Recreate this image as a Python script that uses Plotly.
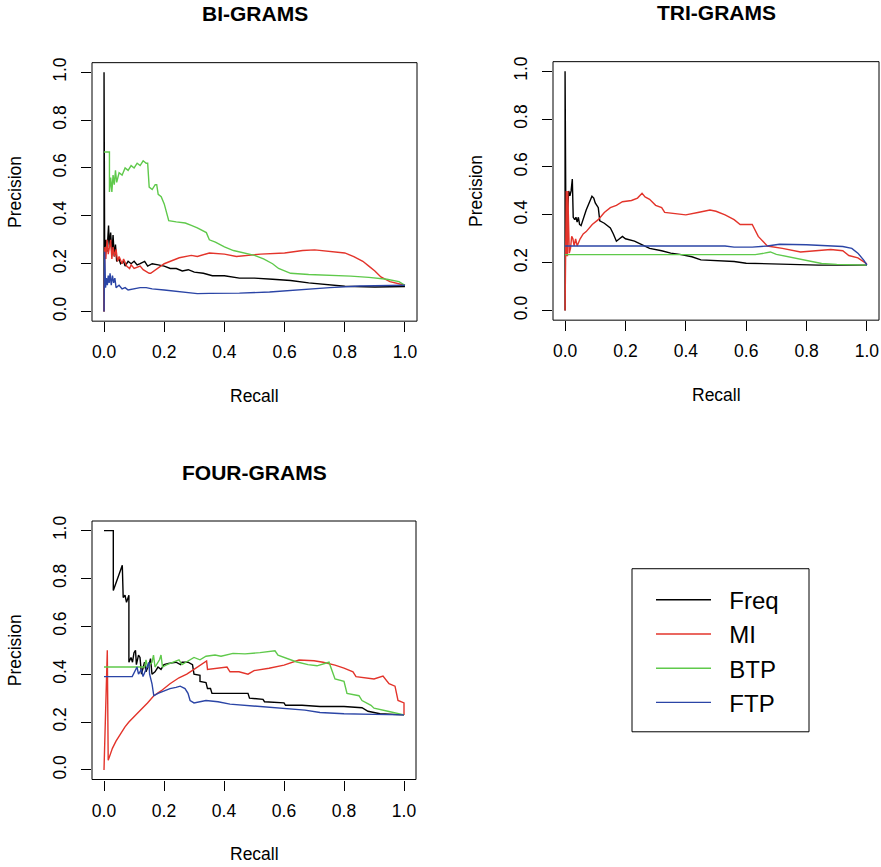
import plotly.graph_objects as go

W, H = 881, 867

series_names = ["Freq", "MI", "BTP", "FTP"]
series_colors = ["#000000", "#E3342B", "#5FC94B", "#2B45A6"]
tick_vals = [0.0, 0.2, 0.4, 0.6, 0.8, 1.0]
tick_text = ["0.0", "0.2", "0.4", "0.6", "0.8", "1.0"]
panel_titles = ["BI-GRAMS", "TRI-GRAMS", "FOUR-GRAMS"]

# ---------------- BI-GRAMS ----------------
bi_freq_r = [0.0, 0.0, 0.002, 0.006, 0.010, 0.015, 0.018, 0.022, 0.026, 0.030, 0.034, 0.038, 0.042, 0.05, 0.055, 0.065,
             0.07, 0.08, 0.09, 0.10, 0.11, 0.12, 0.135, 0.145, 0.16, 0.18, 0.20, 0.22, 0.24, 0.26, 0.28, 0.30, 0.33,
             0.36, 0.40, 0.45, 0.50, 0.56, 0.62, 0.68, 0.74, 0.80, 0.90, 1.0]
bi_freq_p = [0.0, 1.0, 0.26, 0.30, 0.25, 0.36, 0.27, 0.33, 0.24, 0.32, 0.23, 0.28, 0.21, 0.22, 0.20, 0.21,
             0.19, 0.21, 0.20, 0.21, 0.195, 0.20, 0.21, 0.19, 0.20, 0.195, 0.19, 0.18, 0.18, 0.17, 0.175, 0.165, 0.16,
             0.15, 0.15, 0.14, 0.14, 0.135, 0.13, 0.12, 0.113, 0.106, 0.103, 0.105]
bi_mi_r = [0.0, 0.003, 0.006, 0.010, 0.014, 0.018, 0.022, 0.026, 0.030, 0.035, 0.040, 0.045, 0.05, 0.06, 0.065, 0.075,
           0.085, 0.09, 0.10, 0.12, 0.13, 0.15, 0.155, 0.20, 0.25, 0.29, 0.31, 0.35, 0.40, 0.44, 0.48, 0.52, 0.60,
           0.66, 0.70, 0.75, 0.80, 0.83, 0.86, 0.88, 0.90, 0.92, 0.95, 1.0]
bi_mi_p = [0.0, 0.27, 0.22, 0.30, 0.24, 0.28, 0.30, 0.22, 0.27, 0.23, 0.26, 0.21, 0.23, 0.20, 0.22, 0.19,
           0.18, 0.195, 0.18, 0.19, 0.175, 0.16, 0.16, 0.20, 0.225, 0.235, 0.23, 0.245, 0.24, 0.23, 0.235, 0.24, 0.245,
           0.255, 0.258, 0.25, 0.245, 0.23, 0.21, 0.19, 0.17, 0.145, 0.125, 0.11]
bi_btp_r = [0.0, 0.018, 0.018, 0.022, 0.026, 0.030, 0.034, 0.038, 0.042, 0.05, 0.06, 0.07, 0.08, 0.09, 0.10, 0.11,
            0.12, 0.13, 0.14, 0.145, 0.15, 0.16, 0.17, 0.175, 0.18, 0.19, 0.20, 0.21, 0.215, 0.24, 0.27, 0.29, 0.31,
            0.34, 0.35, 0.37, 0.40, 0.43, 0.47, 0.50, 0.53, 0.56, 0.58, 0.62, 0.68, 0.75, 0.82, 0.88, 0.94, 0.98, 1.0]
bi_btp_p = [0.667, 0.667, 0.50, 0.56, 0.50, 0.57, 0.53, 0.59, 0.54, 0.58, 0.57, 0.60, 0.59, 0.61, 0.60, 0.62,
            0.61, 0.63, 0.62, 0.62, 0.52, 0.51, 0.53, 0.53, 0.49, 0.48, 0.45, 0.40, 0.38, 0.375, 0.37, 0.36, 0.35,
            0.33, 0.30, 0.29, 0.27, 0.255, 0.245, 0.235, 0.22, 0.20, 0.18, 0.16, 0.155, 0.152, 0.148, 0.143, 0.135,
            0.125, 0.11]
bi_ftp_r = [0.0, 0.002, 0.005, 0.008, 0.011, 0.014, 0.017, 0.020, 0.024, 0.028, 0.032, 0.036, 0.040, 0.05, 0.06,
            0.07, 0.08, 0.10, 0.12, 0.14, 0.16, 0.20, 0.25, 0.28, 0.31, 0.35, 0.45, 0.55, 0.65, 0.75, 0.85, 0.95, 1.0]
bi_ftp_p = [0.0, 0.25, 0.10, 0.14, 0.11, 0.15, 0.12, 0.16, 0.11, 0.15, 0.12, 0.14, 0.10, 0.11, 0.095,
            0.10, 0.09, 0.095, 0.10, 0.10, 0.095, 0.09, 0.083, 0.08, 0.075, 0.076, 0.077, 0.082, 0.092, 0.10, 0.107,
            0.11, 0.11]

# ---------------- TRI-GRAMS ----------------
tri_freq_r = [0.0, 0.0, 0.003, 0.008, 0.012, 0.016, 0.020, 0.024, 0.027, 0.032, 0.036, 0.040, 0.044, 0.048, 0.053,
              0.07, 0.089, 0.095, 0.10, 0.11, 0.115, 0.13, 0.15, 0.16, 0.17, 0.19, 0.20, 0.23, 0.26, 0.28, 0.32,
              0.35, 0.38, 0.42, 0.45, 0.50, 0.56, 0.60, 0.67, 0.75, 0.84, 1.0]
tri_freq_p = [0.0, 1.0, 0.29, 0.42, 0.50, 0.48, 0.50, 0.55, 0.39, 0.38, 0.39, 0.37, 0.39, 0.36, 0.355,
              0.42, 0.478, 0.47, 0.45, 0.43, 0.375, 0.365, 0.345, 0.32, 0.29, 0.31, 0.30, 0.29, 0.27, 0.26, 0.25,
              0.24, 0.235, 0.225, 0.212, 0.21, 0.205, 0.198, 0.196, 0.192, 0.19, 0.19]
tri_mi_r = [0.0, 0.002, 0.004, 0.005, 0.008, 0.009, 0.012, 0.014, 0.018, 0.022, 0.026, 0.030, 0.035, 0.040, 0.05,
            0.06, 0.07, 0.09, 0.11, 0.13, 0.15, 0.17, 0.19, 0.22, 0.24, 0.255, 0.265, 0.28, 0.30, 0.32, 0.33, 0.36,
            0.40, 0.44, 0.48, 0.50, 0.53, 0.56, 0.58, 0.60, 0.62, 0.64, 0.67, 0.72, 0.78, 0.83, 0.88, 0.92, 0.94,
            0.97, 1.0]
tri_mi_p = [0.0, 0.50, 0.50, 0.23, 0.23, 0.50, 0.30, 0.24, 0.26, 0.31, 0.30, 0.27, 0.30, 0.27, 0.30,
            0.32, 0.33, 0.36, 0.38, 0.41, 0.43, 0.44, 0.455, 0.46, 0.47, 0.49, 0.475, 0.465, 0.44, 0.43, 0.41, 0.405,
            0.40, 0.41, 0.42, 0.415, 0.40, 0.38, 0.36, 0.36, 0.36, 0.31, 0.27, 0.26, 0.245, 0.25, 0.255, 0.25, 0.23,
            0.22, 0.195]
tri_btp_r = [0.0, 0.63, 0.66, 0.68, 0.70, 0.74, 0.78, 0.82, 0.85, 0.90, 1.0]
tri_btp_p = [0.234, 0.234, 0.24, 0.245, 0.235, 0.225, 0.215, 0.205, 0.197, 0.193, 0.19]
tri_ftp_r = [0.0, 0.53, 0.56, 0.62, 0.67, 0.71, 0.80, 0.86, 0.92, 0.95, 0.97, 0.99, 1.0]
tri_ftp_p = [0.27, 0.27, 0.265, 0.265, 0.27, 0.277, 0.275, 0.27, 0.268, 0.26, 0.24, 0.21, 0.19]

# ---------------- FOUR-GRAMS ----------------
four_freq_r = [0.0, 0.031, 0.031, 0.045, 0.055, 0.061, 0.064, 0.07, 0.075, 0.08, 0.083, 0.083, 0.09, 0.095, 0.10,
               0.105, 0.108, 0.115, 0.12, 0.125, 0.13, 0.135, 0.14, 0.15, 0.155, 0.16, 0.17, 0.18, 0.19, 0.20,
               0.215, 0.24, 0.255, 0.26, 0.28, 0.295, 0.30, 0.32, 0.32, 0.34, 0.345, 0.355, 0.36, 0.40, 0.45, 0.48,
               0.485, 0.53, 0.535, 0.60, 0.605, 0.66, 0.72, 0.80, 0.86, 0.88, 0.92, 1.0]
four_freq_p = [1.0, 1.0, 0.75, 0.80, 0.84, 0.855, 0.72, 0.73, 0.70, 0.72, 0.73, 0.45, 0.47, 0.45, 0.49,
               0.50, 0.44, 0.48, 0.47, 0.40, 0.42, 0.45, 0.41, 0.44, 0.465, 0.40, 0.41, 0.43, 0.42, 0.44,
               0.445, 0.45, 0.44, 0.45, 0.45, 0.44, 0.40, 0.395, 0.37, 0.365, 0.34, 0.34, 0.32, 0.32, 0.32, 0.32,
               0.30, 0.295, 0.285, 0.28, 0.27, 0.27, 0.265, 0.265, 0.26, 0.245, 0.235, 0.23]
four_mi_r = [0.0, 0.011, 0.014, 0.02, 0.028, 0.04, 0.055, 0.07, 0.083, 0.10, 0.122, 0.145, 0.166, 0.19, 0.22, 0.25,
             0.276, 0.30, 0.33, 0.342, 0.345, 0.37, 0.41, 0.42, 0.45, 0.48, 0.50, 0.55, 0.60, 0.65, 0.70, 0.73,
             0.77, 0.80, 0.83, 0.84, 0.86, 0.90, 0.93, 0.95, 0.97, 0.98, 1.0, 1.0]
four_mi_p = [0.0, 0.50, 0.04, 0.06, 0.09, 0.12, 0.15, 0.18, 0.20, 0.22, 0.25, 0.28, 0.31, 0.33, 0.36, 0.385,
             0.40, 0.42, 0.445, 0.455, 0.42, 0.425, 0.43, 0.41, 0.41, 0.40, 0.415, 0.425, 0.438, 0.459, 0.456, 0.45,
             0.438, 0.425, 0.41, 0.39, 0.386, 0.38, 0.392, 0.36, 0.35, 0.29, 0.28, 0.23]
four_btp_r = [0.0, 0.135, 0.14, 0.145, 0.16, 0.165, 0.17, 0.185, 0.19, 0.195, 0.21, 0.23, 0.25, 0.26, 0.28, 0.30,
              0.32, 0.34, 0.37, 0.39, 0.43, 0.47, 0.52, 0.57, 0.58, 0.60, 0.62, 0.64, 0.68, 0.71, 0.75, 0.76, 0.77,
              0.80, 0.81, 0.85, 0.86, 0.89, 0.90, 0.95, 1.0]
four_btp_p = [0.43, 0.43, 0.46, 0.43, 0.45, 0.48, 0.43, 0.46, 0.48, 0.43, 0.44, 0.45, 0.46, 0.44, 0.455, 0.47,
              0.46, 0.475, 0.48, 0.475, 0.487, 0.485, 0.49, 0.498, 0.48, 0.47, 0.46, 0.452, 0.44, 0.435, 0.45, 0.41,
              0.38, 0.37, 0.32, 0.31, 0.29, 0.27, 0.258, 0.244, 0.23]
four_ftp_r = [0.0, 0.094, 0.11, 0.115, 0.125, 0.13, 0.15, 0.152, 0.16, 0.166, 0.18, 0.20, 0.22, 0.24, 0.254, 0.27,
              0.28, 0.287, 0.30, 0.34, 0.38, 0.42, 0.47, 0.55, 0.60, 0.67, 0.72, 0.80, 0.90, 1.0]
four_ftp_p = [0.39, 0.39, 0.43, 0.40, 0.42, 0.39, 0.45, 0.40, 0.36, 0.31, 0.32, 0.33, 0.34, 0.345, 0.35, 0.34,
              0.32, 0.29, 0.28, 0.29, 0.285, 0.275, 0.27, 0.265, 0.26, 0.25, 0.24, 0.235, 0.232, 0.23]

panels = [
    [(bi_freq_r, bi_freq_p), (bi_mi_r, bi_mi_p), (bi_btp_r, bi_btp_p), (bi_ftp_r, bi_ftp_p)],
    [(tri_freq_r, tri_freq_p), (tri_mi_r, tri_mi_p), (tri_btp_r, tri_btp_p), (tri_ftp_r, tri_ftp_p)],
    [(four_freq_r, four_freq_p), (four_mi_r, four_mi_p), (four_btp_r, four_btp_p), (four_ftp_r, four_ftp_p)],
]

# plot boxes in pixels: (left, right, top, bottom)
boxes = [(92, 417, 58, 318), (553, 879, 57, 317), (92, 416, 519, 779)]

FONT = "Liberation Sans, Arial, Helvetica, sans-serif"
NBSP = "\u00a0"

fig = go.Figure()
layout = dict(
    width=W, height=H, autosize=False,
    margin=dict(l=0, r=0, t=0, b=0),
    paper_bgcolor="white", plot_bgcolor="white",
    font=dict(family=FONT, color="#000000", size=17),
)

annotations = []
shapes = []
for i, (series, box) in enumerate(zip(panels, boxes)):
    xa = "x" if i == 0 else f"x{i+1}"
    ya = "y" if i == 0 else f"y{i+1}"
    for j, (r, p) in enumerate(series):
        fig.add_trace(go.Scatter(
            x=r, y=p, mode="lines", name=NBSP * 2 + series_names[j],
            line=dict(color=series_colors[j], width=1.4),
            xaxis=xa, yaxis=ya, showlegend=(i == 0),
            hoverinfo="skip",
        ))
    l, r_, t, b = box
    xkey = "xaxis" if i == 0 else f"xaxis{i+1}"
    ykey = "yaxis" if i == 0 else f"yaxis{i+1}"
    layout[xkey] = dict(
        domain=[l / W, r_ / W], range=[-0.04, 1.04], anchor=ya,
        showline=False, showgrid=False, zeroline=False,
        ticks="outside", ticklen=10, tickwidth=1, tickcolor="#000000",
        tickvals=tick_vals, ticktext=tick_text, tickfont=dict(size=17.5, family=FONT),
        ticklabelstandoff=5,
    )
    layout[ykey] = dict(
        domain=[1 - b / H, 1 - t / H], range=[-0.04, 1.04], anchor=xa,
        showline=False, showgrid=False, zeroline=False,
        ticks="outside", ticklen=10, tickwidth=1, tickcolor="#000000",
        tickvals=tick_vals, ticktext=tick_text, tickfont=dict(size=17.5, family=FONT),
        tickangle=-90, ticklabelstandoff=8,
    )
    shapes.append(dict(type="rect", xref=f"{xa} domain", yref=f"{ya} domain",
                       x0=0, x1=1, y0=0, y1=1, line=dict(color="#000000", width=1)))
    cx = (l + r_) / 2
    cy = (t + b) / 2
    annotations.append(dict(text=f"<b>{panel_titles[i]}</b>", x=cx / W, y=1 - (t - 49) / H,
                             xref="paper", yref="paper", showarrow=False,
                             font=dict(size=21, family=FONT), xanchor="center", yanchor="middle"))
    annotations.append(dict(text="Recall", x=cx / W, y=1 - (b + 75) / H, xref="paper", yref="paper",
                            showarrow=False, font=dict(size=17.5, family=FONT),
                            xanchor="center", yanchor="middle"))
    annotations.append(dict(text="Precision", x=(l - 77) / W, y=1 - cy / H, xref="paper", yref="paper",
                            showarrow=False, textangle=-90, font=dict(size=17.5, family=FONT),
                            xanchor="center", yanchor="middle"))

# legend frame
shapes.append(dict(type="rect", xref="paper", yref="paper",
                   x0=632 / W, x1=809 / W, y0=1 - 731 / H, y1=1 - 567 / H,
                   line=dict(color="#000000", width=1)))

layout["annotations"] = annotations
layout["shapes"] = shapes
layout["showlegend"] = True
layout["legend"] = dict(
    x=651 / W, y=1 - 576 / H, xanchor="left", yanchor="top",
    bgcolor="rgba(0,0,0,0)", borderwidth=0,
    font=dict(size=24, family=FONT), itemwidth=55,
    tracegroupgap=0,
)
fig.update_layout(**layout)
fig.write_html("out.html", config={"displayModeBar": False},
               post_script="document.body.style.margin='0px';document.body.style.padding='0px';")
